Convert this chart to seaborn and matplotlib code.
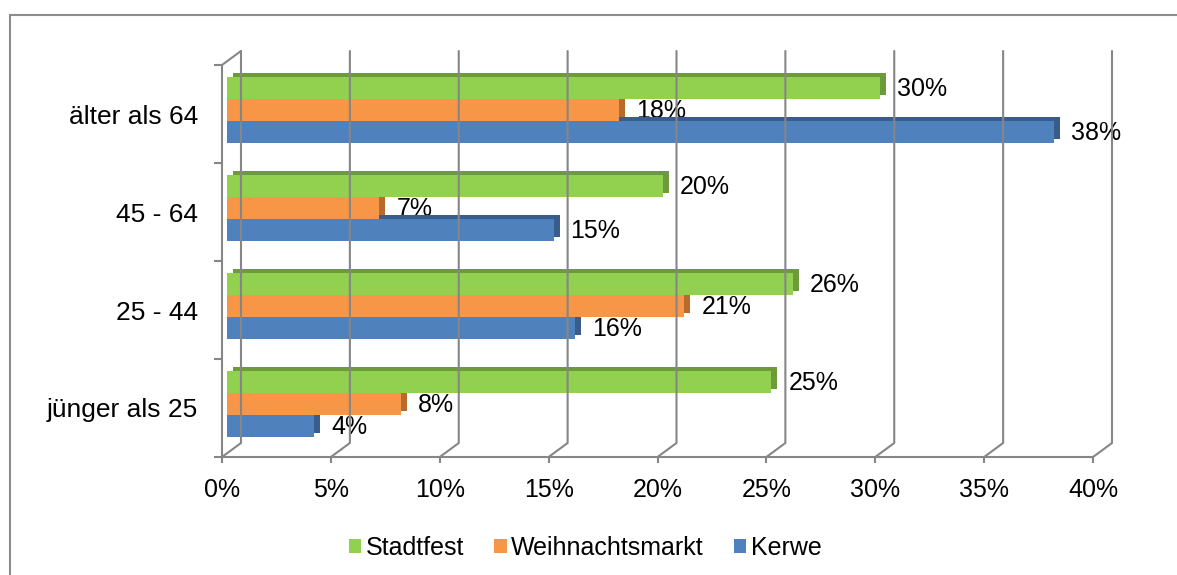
import matplotlib
matplotlib.use('Agg')
import matplotlib.pyplot as plt
import matplotlib.transforms as mtransforms
from matplotlib.patches import Rectangle, Patch
from matplotlib.lines import Line2D
import pandas as pd
import seaborn as sns

# data
groups = ['älter als 64', '45 - 64', '25 - 44', 'jünger als 25']
series = ['Stadtfest', 'Weihnachtsmarkt', 'Kerwe']
stadtfest = [30, 20, 26, 25]
weihnachtsmarkt = [18, 7, 21, 8]
kerwe = [38, 15, 16, 4]
x_ticks = [0, 5, 10, 15, 20, 25, 30, 35, 40]

front_colors = ['#92D050', '#F79646', '#4F81BD']
side_colors = ['#6E9B3A', '#B66A2C', '#385D8A']
grid_color = '#868686'

df = pd.DataFrame({
    'Gruppe': groups * 3,
    'Veranstaltung': [s for s in series for _ in groups],
    'Anteil': stadtfest + weihnachtsmarkt + kerwe,
})

sns.set_style('white')
plt.rcParams['font.family'] = ['Liberation Sans', 'DejaVu Sans']
plt.rcParams['text.color'] = 'black'

fig = plt.figure(figsize=(11.77, 5.75), dpi=100)
ax = fig.add_axes([222 / 1177, 1 - 457 / 575, 871 / 1177, 392 / 575])


def shift(dx, dy):
    # pixel offset for the fake 3D look
    return ax.transData + mtransforms.ScaledTranslation(dx / fig.dpi, dy / fig.dpi, fig.dpi_scale_trans)


sns.barplot(data=df, x='Anteil', y='Gruppe', hue='Veranstaltung', order=groups,
            hue_order=series, palette=front_colors, saturation=1, width=0.67,
            orient='y', legend=False, linewidth=0, ax=ax, zorder=3)

# front faces moved half way into the depth, dark extrusion behind them
for container, side_c in zip(ax.containers, side_colors):
    for bar in container:
        bar.set_transform(shift(5, 4))
        side = Rectangle(bar.get_xy(), bar.get_width(), bar.get_height(),
                         facecolor=side_c, edgecolor='none', zorder=2,
                         transform=shift(11, 8))
        ax.add_patch(side)
        ax.text(bar.get_width(), bar.get_y() + bar.get_height() / 2,
                f'{bar.get_width():.0f}%', transform=shift(22, 3),
                ha='left', va='center', fontsize=18, color='black', zorder=1.5)

ax.set_xlim(0, 40)
ax.set_ylim(3.5, -0.5)

# back wall gridlines with diagonal floor connectors
fig.canvas.draw()
ident = mtransforms.IdentityTransform()
for t in x_ticks:
    x0, y0 = ax.transData.transform((t, 3.5))
    _, y1 = ax.transData.transform((t, -0.5))
    fig.add_artist(Line2D([x0, x0 + 19, x0 + 19], [y0, y0 + 14, y1 + 14],
                          transform=ident, color=grid_color, lw=1.5, zorder=1))
x0, y1 = ax.transData.transform((0, -0.5))
fig.add_artist(Line2D([x0, x0 + 19], [y1, y1 + 14], transform=ident,
                      color=grid_color, lw=1.5, zorder=1))

for side in ['top', 'right']:
    ax.spines[side].set_visible(False)
for side in ['left', 'bottom']:
    ax.spines[side].set_color(grid_color)
    ax.spines[side].set_linewidth(1.5)

ax.set_xticks(x_ticks)
ax.set_xticklabels([f'{t}%' for t in x_ticks])
ax.set_yticks(range(len(groups)))
ax.set_yticklabels(groups)
ax.set_yticks([-0.5, 0.5, 1.5, 2.5, 3.5], minor=True)
ax.tick_params(axis='x', direction='out', length=4.5, width=1.5, color=grid_color,
               labelsize=18, labelcolor='black', pad=10.5, bottom=True)
ax.tick_params(axis='y', which='major', length=0, labelsize=19, labelcolor='black',
               pad=17, left=True)
ax.tick_params(axis='y', which='minor', direction='out', length=6, width=1.5,
               color=grid_color, left=True)
ax.set_xlabel('')
ax.set_ylabel('')
ax.patch.set_alpha(0)

handles = [Patch(facecolor=c, edgecolor='none') for c in front_colors]
fig.legend(handles, series, loc='center', bbox_to_anchor=(585 / 1177, 1 - 548 / 575),
           ncol=3, frameon=False, fontsize=18, handlelength=0.5, handleheight=0.5,
           handletextpad=0.18, columnspacing=1.2, labelcolor='black')

# outer chart border (cut by the image edge on the right and bottom)
fig.add_artist(Rectangle((10 / 1177, -0.1), 1.2, 1.1 - 15 / 575, transform=fig.transFigure,
                         fill=False, edgecolor='#8C8C8C', lw=1.5))

fig.savefig('out.png', dpi=100)
